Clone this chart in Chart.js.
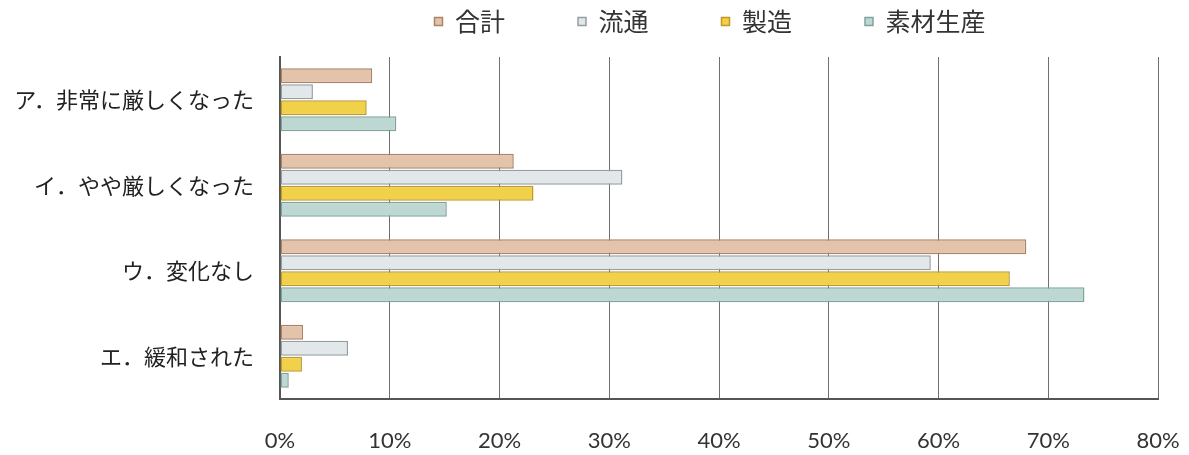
<!DOCTYPE html>
<html>
<head>
<meta charset="utf-8">
<script src="https://cdn.jsdelivr.net/npm/chart.js@4"></script>
<style>
    html, body { margin: 0; padding: 0; background: #fff; }
    #wrap { width: 1189px; height: 455px; }
</style>
</head>
<body>
<div id="wrap"><canvas id="chart"></canvas></div>
<script>
// Categories and series (percent)
const categories = ['ア．非常に厳しくなった', 'イ．やや厳しくなった', 'ウ．変化なし', 'エ．緩和された'];
const seriesNames = ['合計', '流通', '製造', '素材生産'];
const total = [8.4, 21.3, 68.0, 2.1];
const distribution = [3.0, 31.2, 59.3, 6.2];
const manufacturing = [7.9, 23.1, 66.5, 2.0];
const materials = [10.6, 15.2, 73.3, 0.8];
const xTicks = [0, 10, 20, 30, 40, 50, 60, 70, 80];

const fills = ['#e3c3a9', '#e2e7ea', '#f1d14a', '#bdd7d3'];
const borders = ['#a9846a', '#959ea3', '#bf9a2a', '#81a39e'];

const values = [total, distribution, manufacturing, materials];

const datasets = seriesNames.map((name, i) => ({
    label: name,
    data: values[i],
    backgroundColor: fills[i],
    borderColor: borders[i],
    borderWidth: 1.5,
    borderSkipped: false,
    categoryPercentage: 0.75,
    barPercentage: 0.94,
}));

// legend: wide item spacing but a short box, centred over the plot
const legendPlace = {
    id: 'legendPlace',
    beforeInit(chart) {
        const fit = chart.legend.fit;
        chart.legend.fit = function () {
            fit.bind(chart.legend)();
            this.height = 57;
        };
    },
    afterLayout(chart) {
        const lg = chart.legend;
        const shift = 710 - (lg.left + lg.right) / 2;
        lg.left += shift;
        lg.right += shift;
        lg.top = -64;
        lg.bottom = 57;
        lg.height = lg.bottom - lg.top;
    }
};

new Chart(document.getElementById('chart'), {
    type: 'bar',
    data: { labels: categories, datasets },
    plugins: [legendPlace],
    options: {
        indexAxis: 'y',
        responsive: true,
        maintainAspectRatio: false,
        animation: false,
        layout: { padding: { left: 0, right: 0, top: 0, bottom: 0 } },
        plugins: {
            legend: {
                position: 'top',
                labels: {
                    boxWidth: 8,
                    boxHeight: 8,
                    padding: 73,
                    color: '#333',
                    font: { family: 'Noto Sans CJK JP', size: 25 },
                },
            },
            tooltip: { enabled: false },
        },
        scales: {
            x: {
                min: 0,
                max: 80,
                afterBuildTicks(scale) {
                    scale.ticks = xTicks.map(v => ({ value: v }));
                },
                afterFit(scale) {
                    scale.height = 56;
                    scale.paddingRight = 31;
                },
                ticks: {
                    callback: v => v + '%',
                    color: '#333',
                    padding: 29,
                    font: { family: 'Lato', size: 22 },
                },
                grid: { color: '#6f6f6f', lineWidth: 1, drawTicks: false },
                border: { display: true, color: '#555', width: 2 },
            },
            y: {
                afterFit(scale) { scale.width = 280; },
                ticks: {
                    color: '#222',
                    padding: 26,
                    font: { family: 'Noto Sans CJK JP', size: 22 },
                },
                grid: { display: false, drawTicks: false },
                border: { display: true, color: '#555', width: 2 },
            },
        },
    },
});
</script>
</body>
</html>
